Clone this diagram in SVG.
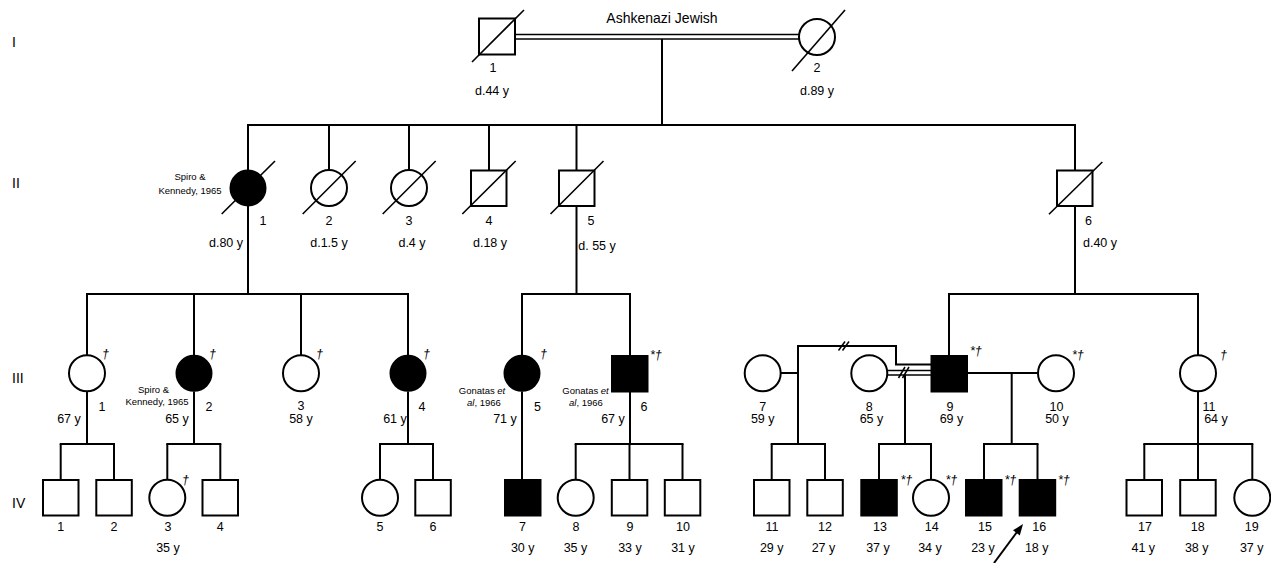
<svg xmlns="http://www.w3.org/2000/svg" width="1271" height="563" viewBox="0 0 1271 563">
<style>
  text { font-family: "Liberation Sans", Arial, sans-serif; fill: #000; }
  .num { font-size: 12.5px; text-anchor: middle; }
  .age { font-size: 12.5px; text-anchor: middle; }
  .gen { font-size: 14px; }
  .title { font-size: 14px; text-anchor: middle; }
  .ref { font-size: 9.5px; text-anchor: middle; }
  .mk { font-size: 12.5px; font-style: italic; }
  .sym { fill: #fff; stroke: #000; stroke-width: 2; }
  .aff { fill: #000; stroke: #000; stroke-width: 2; }
  .dec { stroke: #000; stroke-width: 1.6; fill: none; }
  .ln { stroke: #000; stroke-width: 2; fill: none; }
  .thin { stroke: #000; stroke-width: 1.5; fill: none; }
</style>
<rect width="1271" height="563" fill="#fff"/>

<g id="generation-labels">
  <text class="gen" x="12" y="47">I</text>
  <text class="gen" x="12" y="188">II</text>
  <text class="gen" x="12" y="383">III</text>
  <text class="gen" x="12" y="508">IV</text>
</g>

<g id="connectors">
  <!-- Gen I consanguineous marriage -->
  <line class="thin" x1="515" y1="34.5" x2="799" y2="34.5"/>
  <line class="thin" x1="515" y1="39" x2="799" y2="39"/>
  <line class="ln" x1="662" y1="39" x2="662" y2="125"/>
  <line class="ln" x1="247" y1="125" x2="1076" y2="125"/>
  <line class="ln" x1="248" y1="125" x2="248" y2="170"/>
  <line class="ln" x1="329" y1="125" x2="329" y2="170"/>
  <line class="ln" x1="409" y1="125" x2="409" y2="170"/>
  <line class="ln" x1="489" y1="125" x2="489" y2="170"/>
  <line class="ln" x1="576.5" y1="125" x2="576.5" y2="170"/>
  <line class="ln" x1="1075" y1="125" x2="1075" y2="170"/>
  <!-- II-1 descendants -->
  <line class="ln" x1="248" y1="206" x2="248" y2="294"/>
  <line class="ln" x1="86" y1="294" x2="409" y2="294"/>
  <line class="ln" x1="87" y1="294" x2="87" y2="355"/>
  <line class="ln" x1="194" y1="294" x2="194" y2="355"/>
  <line class="ln" x1="301" y1="294" x2="301" y2="355"/>
  <line class="ln" x1="408" y1="294" x2="408" y2="355"/>
  <!-- II-5 descendants -->
  <line class="ln" x1="576.5" y1="206" x2="576.5" y2="294"/>
  <line class="ln" x1="521" y1="294" x2="631" y2="294"/>
  <line class="ln" x1="522" y1="294" x2="522" y2="355"/>
  <line class="ln" x1="630" y1="294" x2="630" y2="355"/>
  <!-- II-6 descendants -->
  <line class="ln" x1="1075" y1="206" x2="1075" y2="294"/>
  <line class="ln" x1="948" y1="294" x2="1199" y2="294"/>
  <line class="ln" x1="949" y1="294" x2="949" y2="355"/>
  <line class="ln" x1="1198" y1="294" x2="1198" y2="355"/>
  <!-- III-1 children -->
  <line class="ln" x1="87" y1="391.5" x2="87" y2="444"/>
  <line class="ln" x1="59.7" y1="444" x2="115" y2="444"/>
  <line class="ln" x1="60.7" y1="444" x2="60.7" y2="479.5"/>
  <line class="ln" x1="114" y1="444" x2="114" y2="479.5"/>
  <!-- III-2 children -->
  <line class="ln" x1="194" y1="391.5" x2="194" y2="444"/>
  <line class="ln" x1="166.3" y1="444" x2="221.3" y2="444"/>
  <line class="ln" x1="167.3" y1="444" x2="167.3" y2="479.7"/>
  <line class="ln" x1="220.3" y1="444" x2="220.3" y2="479.5"/>
  <!-- III-4 children -->
  <line class="ln" x1="408" y1="391.5" x2="408" y2="444"/>
  <line class="ln" x1="379" y1="444" x2="434" y2="444"/>
  <line class="ln" x1="380" y1="444" x2="380" y2="479.7"/>
  <line class="ln" x1="433" y1="444" x2="433" y2="479.5"/>
  <!-- III-5 child -->
  <line class="ln" x1="522" y1="391.5" x2="522" y2="479.5"/>
  <!-- III-6 children -->
  <line class="ln" x1="630" y1="391.5" x2="630" y2="444"/>
  <line class="ln" x1="574.7" y1="444" x2="683.5" y2="444"/>
  <line class="ln" x1="575.7" y1="444" x2="575.7" y2="479.7"/>
  <line class="ln" x1="629.5" y1="444" x2="629.5" y2="479.5"/>
  <line class="ln" x1="682.5" y1="444" x2="682.5" y2="479.5"/>
  <!-- III-7 / III-9 former union -->
  <line class="ln" x1="781" y1="373" x2="798" y2="373"/>
  <path class="ln" d="M798 444 V346 H896 V364.5 H931"/>
  <line class="thin" x1="838.5" y1="350.5" x2="845" y2="341.5"/>
  <line class="thin" x1="842.5" y1="350.5" x2="849" y2="341.5"/>
  <line class="ln" x1="770.7" y1="444" x2="826" y2="444"/>
  <line class="ln" x1="771.7" y1="444" x2="771.7" y2="479.5"/>
  <line class="ln" x1="825" y1="444" x2="825" y2="479.5"/>
  <!-- III-8 / III-9 consanguineous, separated -->
  <line class="thin" x1="887.5" y1="370.5" x2="931" y2="370.5"/>
  <line class="thin" x1="887.5" y1="375" x2="931" y2="375"/>
  <line class="thin" x1="898.5" y1="378" x2="905" y2="367"/>
  <line class="thin" x1="902.5" y1="378" x2="909" y2="367"/>
  <line class="ln" x1="905" y1="375" x2="905" y2="444"/>
  <line class="ln" x1="878" y1="444" x2="932" y2="444"/>
  <line class="ln" x1="879" y1="444" x2="879" y2="479.5"/>
  <line class="ln" x1="931" y1="444" x2="931" y2="479.7"/>
  <!-- III-9 / III-10 -->
  <line class="ln" x1="967" y1="373" x2="1038" y2="373"/>
  <line class="ln" x1="1011.7" y1="373" x2="1011.7" y2="444"/>
  <line class="ln" x1="983" y1="444" x2="1038.5" y2="444"/>
  <line class="ln" x1="984" y1="444" x2="984" y2="479.5"/>
  <line class="ln" x1="1037.5" y1="444" x2="1037.5" y2="479.5"/>
  <!-- III-11 children -->
  <line class="ln" x1="1198" y1="391.5" x2="1198" y2="444"/>
  <line class="ln" x1="1143.3" y1="444" x2="1253.3" y2="444"/>
  <line class="ln" x1="1144.3" y1="444" x2="1144.3" y2="479.5"/>
  <line class="ln" x1="1198" y1="444" x2="1198" y2="479.5"/>
  <line class="ln" x1="1252.3" y1="444" x2="1252.3" y2="479.7"/>
  <!-- proband arrow -->
  <line class="ln" x1="994" y1="563" x2="1017" y2="532"/>
  <polygon points="1023,524 1019.8,535.4 1013,530.3" fill="#000"/>
</g>

<!-- Generation I -->
<g id="I-1">
  <rect class="sym" x="479" y="18.5" width="36" height="36"/>
  <line class="dec" x1="472" y1="62" x2="524" y2="10"/>
  <text class="num" x="493" y="72">1</text>
  <text class="age" x="492" y="95">d.44 y</text>
</g>
<g id="I-2">
  <circle class="sym" cx="817" cy="37" r="18"/>
  <line class="dec" x1="792" y1="71" x2="845" y2="10"/>
  <text class="num" x="817" y="72">2</text>
  <text class="age" x="817" y="95">d.89 y</text>
</g>
<text class="title" x="662" y="23">Ashkenazi Jewish</text>

<!-- Generation II -->
<g id="II-1">
  <circle class="aff" cx="248" cy="188" r="17.5"/>
  <line class="dec" x1="221.7" y1="214" x2="275" y2="161"/>
  <text class="ref" x="190" y="180">Spiro &amp;</text>
  <text class="ref" x="190" y="194">Kennedy, 1965</text>
  <text class="num" x="263" y="225">1</text>
  <text class="age" x="226" y="247">d.80 y</text>
</g>
<g id="II-2">
  <circle class="sym" cx="329" cy="188" r="18"/>
  <line class="dec" x1="302.7" y1="214" x2="355.7" y2="161"/>
  <text class="num" x="329" y="225">2</text>
  <text class="age" x="329" y="247">d.1.5 y</text>
</g>
<g id="II-3">
  <circle class="sym" cx="409" cy="188" r="18"/>
  <line class="dec" x1="382.7" y1="214" x2="435.7" y2="161"/>
  <text class="num" x="409" y="225">3</text>
  <text class="age" x="412" y="247">d.4 y</text>
</g>
<g id="II-4">
  <rect class="sym" x="471" y="170.5" width="35.5" height="35.5"/>
  <line class="dec" x1="462.3" y1="214" x2="515.7" y2="161"/>
  <text class="num" x="489" y="225">4</text>
  <text class="age" x="490" y="247">d.18 y</text>
</g>
<g id="II-5">
  <rect class="sym" x="559" y="170.5" width="35.5" height="35.5"/>
  <line class="dec" x1="550.5" y1="214" x2="603.5" y2="161"/>
  <text class="num" x="591" y="225">5</text>
  <text class="age" x="597" y="250">d. 55 y</text>
</g>
<g id="II-6">
  <rect class="sym" x="1057" y="170.5" width="35.5" height="35.5"/>
  <line class="dec" x1="1049" y1="214.3" x2="1102.3" y2="162"/>
  <text class="num" x="1088.5" y="225">6</text>
  <text class="age" x="1100" y="247">d.40 y</text>
</g>

<!-- Generation III -->
<g id="III-1">
  <circle class="sym" cx="87" cy="373.3" r="18"/>
  <text class="mk" x="102" y="358">†</text>
  <text class="num" x="102" y="411">1</text>
  <text class="age" x="69" y="423">67 y</text>
</g>
<g id="III-2">
  <circle class="aff" cx="194" cy="373.3" r="17.5"/>
  <text class="mk" x="209" y="358">†</text>
  <text class="ref" x="153.5" y="393">Spiro &amp;</text>
  <text class="ref" x="157" y="405">Kennedy, 1965</text>
  <text class="num" x="209" y="411">2</text>
  <text class="age" x="177" y="423">65 y</text>
</g>
<g id="III-3">
  <circle class="sym" cx="301" cy="373.3" r="18"/>
  <text class="mk" x="316" y="358">†</text>
  <text class="num" x="301" y="410">3</text>
  <text class="age" x="301" y="423">58 y</text>
</g>
<g id="III-4">
  <circle class="aff" cx="408" cy="373.3" r="17.5"/>
  <text class="mk" x="423" y="358">†</text>
  <text class="num" x="422" y="411">4</text>
  <text class="age" x="395" y="423">61 y</text>
</g>
<g id="III-5">
  <circle class="aff" cx="522" cy="373.3" r="17.5"/>
  <text class="mk" x="540" y="358">†</text>
  <text class="ref" x="482" y="394">Gonatas <tspan font-style="italic">et</tspan></text>
  <text class="ref" x="484" y="406"><tspan font-style="italic">al</tspan>, 1966</text>
  <text class="num" x="537.5" y="411">5</text>
  <text class="age" x="505" y="423">71 y</text>
</g>
<g id="III-6">
  <rect class="aff" x="612" y="356" width="35.5" height="35.5"/>
  <text class="mk" x="650" y="359">*†</text>
  <text class="ref" x="585.5" y="394">Gonatas <tspan font-style="italic">et</tspan></text>
  <text class="ref" x="586" y="406"><tspan font-style="italic">al</tspan>, 1966</text>
  <text class="num" x="644" y="411">6</text>
  <text class="age" x="613" y="423">67 y</text>
</g>
<g id="III-7">
  <circle class="sym" cx="762.7" cy="373.3" r="18"/>
  <text class="num" x="762.7" y="411">7</text>
  <text class="age" x="762.7" y="423">59 y</text>
</g>
<g id="III-8">
  <circle class="sym" cx="869.3" cy="373.3" r="18"/>
  <text class="num" x="869.3" y="411">8</text>
  <text class="age" x="871.5" y="423">65 y</text>
</g>
<g id="III-9">
  <rect class="aff" x="931.5" y="356" width="35.5" height="35.5"/>
  <text class="mk" x="970" y="355">*†</text>
  <text class="num" x="950" y="411">9</text>
  <text class="age" x="951.5" y="423">69 y</text>
</g>
<g id="III-10">
  <circle class="sym" cx="1056" cy="373.3" r="18"/>
  <text class="mk" x="1072" y="359">*†</text>
  <text class="num" x="1056.5" y="411">10</text>
  <text class="age" x="1057" y="423">50 y</text>
</g>
<g id="III-11">
  <circle class="sym" cx="1198" cy="373.3" r="18"/>
  <text class="mk" x="1220" y="359">†</text>
  <text class="num" x="1209" y="411">11</text>
  <text class="age" x="1216" y="423">64 y</text>
</g>

<!-- Generation IV -->
<g id="IV-1">
  <rect class="sym" x="43" y="480" width="35.5" height="35.5"/>
  <text class="num" x="60.7" y="531">1</text>
</g>
<g id="IV-2">
  <rect class="sym" x="96.3" y="480" width="35.5" height="35.5"/>
  <text class="num" x="114" y="531">2</text>
</g>
<g id="IV-3">
  <circle class="sym" cx="167.3" cy="497.7" r="18"/>
  <text class="mk" x="182" y="484">†</text>
  <text class="num" x="168" y="531">3</text>
  <text class="age" x="168" y="552">35 y</text>
</g>
<g id="IV-4">
  <rect class="sym" x="202.5" y="480" width="35.5" height="35.5"/>
  <text class="num" x="220.3" y="531">4</text>
</g>
<g id="IV-5">
  <circle class="sym" cx="380" cy="497.7" r="18"/>
  <text class="num" x="380" y="531">5</text>
</g>
<g id="IV-6">
  <rect class="sym" x="415.3" y="480" width="35.5" height="35.5"/>
  <text class="num" x="433" y="531">6</text>
</g>
<g id="IV-7">
  <rect class="aff" x="505" y="480" width="35.5" height="35.5"/>
  <text class="num" x="522.5" y="531">7</text>
  <text class="age" x="522.7" y="552">30 y</text>
</g>
<g id="IV-8">
  <circle class="sym" cx="575.7" cy="497.7" r="18"/>
  <text class="num" x="576" y="531">8</text>
  <text class="age" x="575.5" y="552">35 y</text>
</g>
<g id="IV-9">
  <rect class="sym" x="611.8" y="480" width="35.5" height="35.5"/>
  <text class="num" x="630" y="531">9</text>
  <text class="age" x="630" y="552">33 y</text>
</g>
<g id="IV-10">
  <rect class="sym" x="664.8" y="480" width="35.5" height="35.5"/>
  <text class="num" x="683" y="531">10</text>
  <text class="age" x="683" y="552">31 y</text>
</g>
<g id="IV-11">
  <rect class="sym" x="754" y="480" width="35.5" height="35.5"/>
  <text class="num" x="772" y="531">11</text>
  <text class="age" x="771.7" y="552">29 y</text>
</g>
<g id="IV-12">
  <rect class="sym" x="807.3" y="480" width="35.5" height="35.5"/>
  <text class="num" x="825" y="531">12</text>
  <text class="age" x="823.5" y="552">27 y</text>
</g>
<g id="IV-13">
  <rect class="aff" x="861.3" y="480" width="35.5" height="35.5"/>
  <text class="mk" x="900.5" y="484">*†</text>
  <text class="num" x="880" y="531">13</text>
  <text class="age" x="878" y="552">37 y</text>
</g>
<g id="IV-14">
  <circle class="sym" cx="931" cy="497.7" r="18"/>
  <text class="mk" x="945.5" y="484">*†</text>
  <text class="num" x="931.7" y="531">14</text>
  <text class="age" x="930" y="552">34 y</text>
</g>
<g id="IV-15">
  <rect class="aff" x="966" y="480" width="35.5" height="35.5"/>
  <text class="mk" x="1004.5" y="484">*†</text>
  <text class="num" x="985" y="531">15</text>
  <text class="age" x="983" y="552">23 y</text>
</g>
<g id="IV-16">
  <rect class="aff" x="1019.7" y="480" width="35.5" height="35.5"/>
  <text class="mk" x="1058" y="484">*†</text>
  <text class="num" x="1039.3" y="531">16</text>
  <text class="age" x="1036.7" y="552">18 y</text>
</g>
<g id="IV-17">
  <rect class="sym" x="1126.5" y="480" width="35.5" height="35.5"/>
  <text class="num" x="1145" y="531">17</text>
  <text class="age" x="1143.3" y="552">41 y</text>
</g>
<g id="IV-18">
  <rect class="sym" x="1180.2" y="480" width="35.5" height="35.5"/>
  <text class="num" x="1197.7" y="531">18</text>
  <text class="age" x="1196.7" y="552">38 y</text>
</g>
<g id="IV-19">
  <circle class="sym" cx="1252.3" cy="497.7" r="18"/>
  <text class="num" x="1251.7" y="531">19</text>
  <text class="age" x="1251.7" y="552">37 y</text>
</g>
</svg>
